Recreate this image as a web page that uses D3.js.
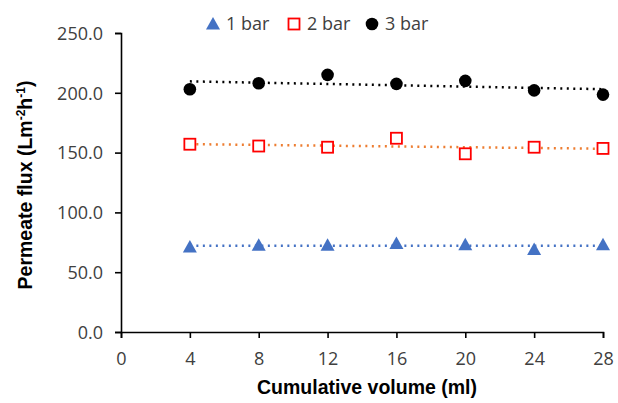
<!DOCTYPE html>
<html>
<head>
<meta charset="utf-8">
<script src="https://cdn.jsdelivr.net/npm/d3@7"></script>
<style>
  body { margin: 0; background: #fff; }
  svg { display: block; }
</style>
</head>
<body>
<div id="chart"></div>
<script>
// data
const volumes = [4, 8, 12, 16, 20, 24, 28];
const flux1bar = [71, 72.5, 72.5, 74, 73, 69, 73];
const flux2bar = [157, 155.5, 154.5, 162, 149, 154.5, 153.5];
const flux3bar = [203, 208, 215, 207.5, 210, 202, 198.5];
const xTicks = [0, 4, 8, 12, 16, 20, 24, 28];
const yTicks = [0, 50, 100, 150, 200, 250];
const seriesNames = ['1 bar', '2 bar', '3 bar'];

const width = 618, height = 403;
const margin = { left: 121, right: 15, top: 33, bottom: 71 };
const tickFont = '"Open Sans", sans-serif';

const svg = d3.select('#chart').append('svg')
  .attr('width', width)
  .attr('height', height);

const x = d3.scaleLinear().domain([0, 28]).range([margin.left, 603]);
const y = d3.scaleLinear().domain([0, 250]).range([332, margin.top]);

const series = [
  { name: seriesNames[0], values: flux1bar, marker: 'triangle', color: '#4472C4', trend: '#4472C4' },
  { name: seriesNames[1], values: flux2bar, marker: 'square', color: '#FF0000', trend: '#ED7D31' },
  { name: seriesNames[2], values: flux3bar, marker: 'circle', color: '#000000', trend: '#000000' }
];

// least squares trendline, like the spreadsheet does
function linearFit(xs, ys) {
  const mx = d3.mean(xs), my = d3.mean(ys);
  let num = 0, den = 0;
  xs.forEach((v, i) => { num += (v - mx) * (ys[i] - my); den += (v - mx) ** 2; });
  const b = num / den;
  return v => my + b * (v - mx);
}

// axes
const xAxis = svg.append('g')
  .attr('transform', `translate(0,${y(0)})`)
  .call(d3.axisBottom(x).tickValues(xTicks).tickSize(6).tickPadding(14).tickFormat(d3.format('d')));
const yAxis = svg.append('g')
  .attr('transform', `translate(${x(0)},0)`)
  .call(d3.axisLeft(y).tickValues(yTicks).tickSize(6).tickPadding(12).tickFormat(d3.format('.1f')));

[xAxis, yAxis].forEach(a => {
  a.select('.domain').attr('stroke', '#000').attr('stroke-width', 1.6);
  a.selectAll('.tick line').attr('stroke', '#000').attr('stroke-width', 1.6);
  a.selectAll('.tick text')
    .attr('fill', '#404040')
    .style('font-family', tickFont)
    .style('font-size', '18px');
});
yAxis.selectAll('.tick text').attr('dy', '0.35em');

// trendlines
series.forEach(s => {
  const f = linearFit(volumes, s.values);
  svg.append('line')
    .attr('x1', x(volumes[0]))
    .attr('y1', y(f(volumes[0])))
    .attr('x2', x(volumes[volumes.length - 1]))
    .attr('y2', y(f(volumes[volumes.length - 1])))
    .attr('stroke', s.trend)
    .attr('stroke-width', 2.5)
    .attr('stroke-dasharray', '2,4.5');
});

function drawMarker(g, type, color, cx, cy) {
  if (type === 'triangle') {
    g.append('path')
      .attr('d', `M${cx},${cy - 7}L${cx + 7},${cy + 5.5}L${cx - 7},${cy + 5.5}Z`)
      .attr('fill', color);
  } else if (type === 'square') {
    g.append('rect')
      .attr('x', cx - 5.5).attr('y', cy - 5.5)
      .attr('width', 11).attr('height', 11)
      .attr('fill', '#fff')
      .attr('stroke', color)
      .attr('stroke-width', 1.8);
  } else {
    g.append('circle')
      .attr('cx', cx).attr('cy', cy).attr('r', 6.3)
      .attr('fill', color);
  }
}

// points
series.forEach(s => {
  const g = svg.append('g');
  volumes.forEach((v, i) => drawMarker(g, s.marker, s.color, x(v), y(s.values[i])));
});

// legend
const legendX = [213, 294, 372];
series.forEach((s, i) => {
  const g = svg.append('g');
  drawMarker(g, s.marker, s.color, legendX[i], 24);
  g.append('text')
    .attr('x', legendX[i] + 13)
    .attr('y', 24)
    .attr('dy', '0.35em')
    .attr('fill', '#404040')
    .style('font-family', tickFont)
    .style('font-size', '18px')
    .text(s.name);
});

// axis titles
svg.append('text')
  .attr('x', 367)
  .attr('y', 394)
  .attr('text-anchor', 'middle')
  .style('font-family', '"Liberation Sans", Arial, sans-serif')
  .style('font-weight', 'bold')
  .style('font-size', '19.5px')
  .attr('fill', '#000')
  .text('Cumulative volume (ml)');

const yTitle = svg.append('text')
  .attr('transform', `translate(32,185) rotate(-90)`)
  .attr('text-anchor', 'middle')
  .style('font-family', '"Liberation Sans", Arial, sans-serif')
  .style('font-weight', 'bold')
  .style('font-size', '19.5px')
  .attr('fill', '#000');
yTitle.append('tspan').text('Permeate flux (Lm');
yTitle.append('tspan').attr('dy', -7).style('font-size', '12px').text('-2');
yTitle.append('tspan').attr('dy', 7).text('h');
yTitle.append('tspan').attr('dy', -7).style('font-size', '12px').text('-1');
yTitle.append('tspan').attr('dy', 7).text(')');
</script>
</body>
</html>
